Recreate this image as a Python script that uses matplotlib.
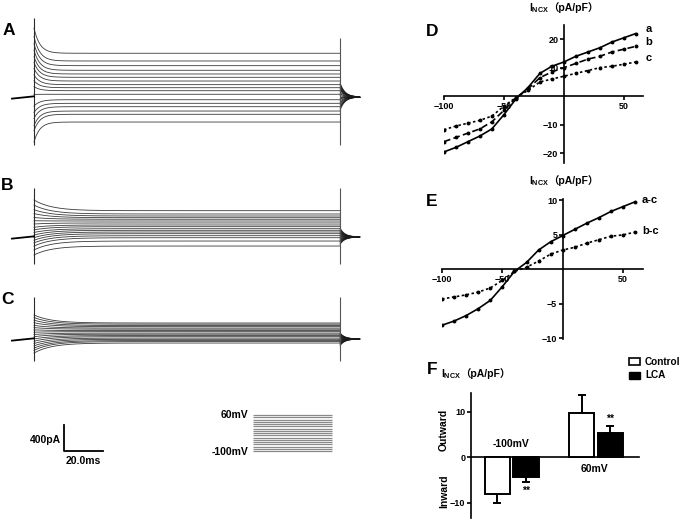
import numpy as np
import matplotlib.pyplot as plt
from matplotlib.patches import Patch

plt.rcParams['font.family'] = ['Liberation Sans', 'Noto Sans CJK SC', 'DejaVu Sans']
plt.rcParams['font.weight'] = 'bold'
plt.rcParams['mathtext.fontset'] = 'custom'
plt.rcParams['mathtext.rm'] = 'Liberation Sans:bold'

# ---- data -------------------------------------------------------------
# voltage steps (mV)
volts = np.arange(-100, 61, 10)

# panel A-C current traces (pA): steady level, early peak, tail amplitude
steady_A = [-385, -266, -216, -149, -97, -42, 42, 97, 143, 190, 246, 303, 354, 411, 482, 554, 673]
peak_A = [-690, -520, -440, -330, -240, -140, 40, 160, 250, 340, 440, 530, 620, 720, 820, 930, 1060]
tail_A = [-200, -170, -150, -120, -90, -60, -30, 0, 20, 50, 80, 110, 130, 150, 170, 190, 215]

steady_B = [-139, -62, -11, 20, 51, 77, 103, 128, 159, 185, 216, 246, 273, 297, 323, 354, 405]
peak_B = [-277, -200, -140, -90, -50, -10, 30, 70, 110, 150, 200, 250, 300, 360, 420, 490, 570]
tail_B = [-110, -95, -80, -65, -50, -35, -20, -5, 10, 25, 40, 55, 70, 85, 100, 115, 135]

steady_C = [-62, -40, -24, -5, 14, 36, 53, 74, 91, 113, 130, 151, 168, 190, 207, 228, 246]
peak_C = [-216, -175, -140, -105, -70, -35, 0, 35, 70, 105, 140, 175, 210, 250, 290, 330, 370]
tail_C = [-100, -88, -76, -64, -52, -40, -28, -16, -4, 8, 20, 32, 44, 56, 68, 80, 92]

step_ms = 157.0      # step duration
tail_end_ms = 167.0
pre_ms = -11.3

# spike extents (pA) at step onset / offset
spike_on = {'A': (-738, 1215), 'B': (-415, 754), 'C': (-338, 646)}
spike_off = {'A': (-738, 908), 'B': (-415, 754), 'C': (-338, 646)}

# panel D: I-V relations (pA/pF)
iv_a = [-19.6, -18, -16, -14, -11.5, -6.5, -1, 3, 8, 10.5, 12, 14, 15.5, 17, 19, 20.5, 22]
iv_b = [-16, -14.5, -13, -11.5, -9, -5, -0.5, 2.5, 6.5, 8.5, 10, 11.5, 13, 14, 15.5, 16.5, 17.5]
iv_c = [-11.8, -10.5, -9.5, -8.5, -7, -3.5, -0.5, 2, 5, 6, 7, 8, 9, 10, 10.5, 11.2, 12]

# panel E: difference currents
iv_ac = [-8.1, -7.5, -6.7, -5.7, -4.5, -2.5, -0.3, 1, 2.8, 4, 4.9, 5.8, 6.7, 7.5, 8.4, 9.1, 9.8]
iv_bc = [-4.3, -4, -3.7, -3.3, -2.7, -1.6, -0.3, 0.3, 1.2, 2.2, 2.8, 3.2, 3.8, 4.3, 4.8, 5.0, 5.4]

# panel F: bar chart
groups = ['-100mV', '60mV']
ctrl = [-8.1, 9.8]
ctrl_err = [2.1, 3.9]
lca = [-4.4, 5.4]
lca_err = [1.1, 1.5]

# ---- layout helpers ---------------------------------------------------
W, H = 685, 523
fig = plt.figure(figsize=(6.85, 5.23), dpi=100)
MS_PX = 20 / 39
PA_PX = 400 / 26


def px_axes(x0, y0, x1, y1):
    return fig.add_axes([x0 / W, 1 - y1 / H, (x1 - x0) / W, (y1 - y0) / H])


def draw_traces(key, y0, y1, ybase, steady, peak, tail, tau, tau_tail):
    ax = px_axes(0, y0, 370, y1)
    ax.set_xlim((0 - 34) * MS_PX, (370 - 34) * MS_PX)
    ax.set_ylim((ybase - y1) * PA_PX, (ybase - y0) * PA_PX)
    ax.axis('off')
    t_on = np.linspace(0, step_ms, 500)
    t_off = np.linspace(step_ms, tail_end_ms, 120)
    for s, p, tl in zip(steady, peak, tail):
        ax.plot(t_on, s + (p - s) * np.exp(-t_on / tau), color='#3a3a3a', lw=0.6)
        ax.plot(t_off, tl * np.exp(-(t_off - step_ms) / tau_tail), color='#1a1a1a', lw=0.6)
    ax.vlines(0, *spike_on[key], color='#2b2b2b', lw=0.8)
    ax.vlines(step_ms, *spike_off[key], color='#555555', lw=0.8)
    ax.plot([pre_ms, 0], [-25, 10], color='black', lw=1.3)
    return ax


draw_traces('A', 10, 150, 97, steady_A, peak_A, tail_A, 3.0, 2.5)
draw_traces('B', 180, 270, 237, steady_B, peak_B, tail_B, 9.0, 2.5)
draw_traces('C', 290, 370, 339, steady_C, peak_C, tail_C, 9.0, 2.5)

# scale bar
sb = px_axes(64, 425, 103, 451)
sb.set_xlim(0, 20)
sb.set_ylim(0, 400)
sb.axis('off')
sb.plot([0, 0, 20], [400, 0, 0], color='black', lw=1.3, clip_on=False)
fig.text(61 / W, 1 - 440 / H, '400pA', ha='right', va='center', fontsize=7.5)
fig.text(83 / W, 1 - 461.5 / H, '20.0ms', ha='center', va='center', fontsize=7.5)

# voltage protocol
pr = px_axes(253, 415, 332, 451)
pr.set_xlim(0, 1)
pr.set_ylim(-100, 60)
pr.axis('off')
pr.hlines(volts, 0, 1, color='#8a8a8a', lw=0.9, clip_on=False)
fig.text(248 / W, 1 - 415 / H, '60mV', ha='right', va='center', fontsize=7.5)
fig.text(248 / W, 1 - 452 / H, '-100mV', ha='right', va='center', fontsize=7.5)

# panel letters
for lab, x, y in [('A', 8.5, 30.5), ('B', 7.5, 185), ('C', 7.5, 299.5),
                  ('D', 432, 32), ('E', 432, 202), ('F', 432, 370)]:
    fig.text(x / W, 1 - y / H, lab, ha='center', va='center', fontsize=12.5, fontweight='bold')


def iv_axes(ax):
    for s in ['top', 'right']:
        ax.spines[s].set_visible(False)
    ax.spines['left'].set_position(('data', 0))
    ax.spines['bottom'].set_position(('data', 0))
    for s in ['left', 'bottom']:
        ax.spines[s].set_linewidth(1.2)
    ax.tick_params(direction='out', length=3, width=1.2, labelsize=6.5, pad=1)


def ncx_title(xpx, ypx):
    fig.text(xpx / W, 1 - ypx / H, r'I$_{\mathregular{NCX}}$', ha='left', va='center',
             fontsize=7.5)
    fig.text((xpx + 19) / W, 1 - ypx / H, '（pA/pF）', ha='left', va='center', fontsize=7.5)


# panel D
axD = px_axes(444, 25, 643, 163)
axD.set_xlim(-100, 66)
axD.set_ylim(-23.5, 25)
iv_axes(axD)
axD.set_xticks([-100, -50, 50])
axD.set_yticks([-20, -10, 10, 20])
axD.plot(volts, iv_a, color='black', lw=1.2, marker='o', ms=1.8)
axD.plot(volts, iv_b, color='black', lw=1.2, ls=(0, (4, 2)), marker='o', ms=1.8)
axD.plot(volts, iv_c, color='black', lw=1.2, ls=(0, (1.5, 1.5)), marker='o', ms=1.8)
for lab, vals in [('a', iv_a), ('b', iv_b), ('c', iv_c)]:
    axD.annotate(lab, (volts[-1], vals[-1]), xytext=(7, 3), textcoords='offset points',
                 ha='left', va='center', fontsize=8, annotation_clip=False)
ncx_title(529, 8)

# panel E
axE = px_axes(442, 199, 643, 339)
axE.set_xlim(-100, 66.5)
axE.set_ylim(-10.1, 10.2)
iv_axes(axE)
axE.set_xticks([-100, -50, 50])
axE.set_yticks([-10, -5, 5, 10])
axE.plot(volts, iv_ac, color='black', lw=1.2, marker='o', ms=1.8)
axE.plot(volts, iv_bc, color='black', lw=1.2, ls=(0, (1.5, 1.5)), marker='o', ms=1.8)
for lab, vals in [('a-c', iv_ac), ('b-c', iv_bc)]:
    axE.annotate(lab, (volts[-1], vals[-1]), xytext=(5, 1), textcoords='offset points',
                 ha='left', va='center', fontsize=8, annotation_clip=False)
ncx_title(529, 181)

# panel F
axF = px_axes(471, 393, 639, 518)
axF.set_xlim(-0.48, 1.51)
axF.set_ylim(-13.4, 14.1)
x = np.arange(len(groups))
off, bw = 0.17, 0.3
axF.bar(x - off, ctrl, bw, facecolor='white', edgecolor='black', lw=1.4, zorder=3, label='Control')
axF.bar(x + off, lca, bw, facecolor='black', edgecolor='black', lw=1.4, zorder=3, label='LCA')
for xs, vals, errs in [(x - off, ctrl, ctrl_err), (x + off, lca, lca_err)]:
    lo = [e if v < 0 else 0 for v, e in zip(vals, errs)]
    hi = [e if v > 0 else 0 for v, e in zip(vals, errs)]
    axF.errorbar(xs, vals, yerr=[lo, hi], fmt='none', ecolor='black', elinewidth=1.4,
                 capsize=3.2, capthick=1.4, zorder=2)
for s in ['top', 'right']:
    axF.spines[s].set_visible(False)
axF.spines['bottom'].set_position(('data', 0))
axF.spines['left'].set_linewidth(1.2)
axF.spines['bottom'].set_linewidth(1.2)
axF.set_xticks([])
axF.set_yticks([-10, 0, 10])
axF.tick_params(axis='y', direction='out', length=3, width=1.2, labelsize=6.5, pad=1)
axF.text(x[0] - 0.01, 2.9, groups[0], ha='center', va='center', fontsize=7.5)
axF.text(x[1] - 0.02, -2.7, groups[1], ha='center', va='center', fontsize=7.5)
axF.annotate('**', (x[0] + off, lca[0] - lca_err[0]), xytext=(0, -6), textcoords='offset points',
             ha='center', va='center', fontsize=7.5)
axF.annotate('**', (x[1] + off, lca[1] + lca_err[1]), xytext=(0, 5), textcoords='offset points',
             ha='center', va='center', fontsize=7.5)
fig.text(444 / W, 1 - 430 / H, 'Outward', rotation=90, ha='center', va='center', fontsize=7.5)
fig.text(444 / W, 1 - 491 / H, 'Inward', rotation=90, ha='center', va='center', fontsize=7.5)
ncx_title(441, 374)
axF.legend(handles=[Patch(facecolor='white', edgecolor='black', lw=1.2, label='Control'),
                    Patch(facecolor='black', edgecolor='black', label='LCA')],
           loc='upper left', bbox_to_anchor=(622 / W, 1 - 350 / H), bbox_transform=fig.transFigure,
           frameon=False, fontsize=7.2, handlelength=1.1, handleheight=0.7,
           handletextpad=0.5, labelspacing=0.35, borderpad=0.2)

fig.savefig('out.png', dpi=100)
